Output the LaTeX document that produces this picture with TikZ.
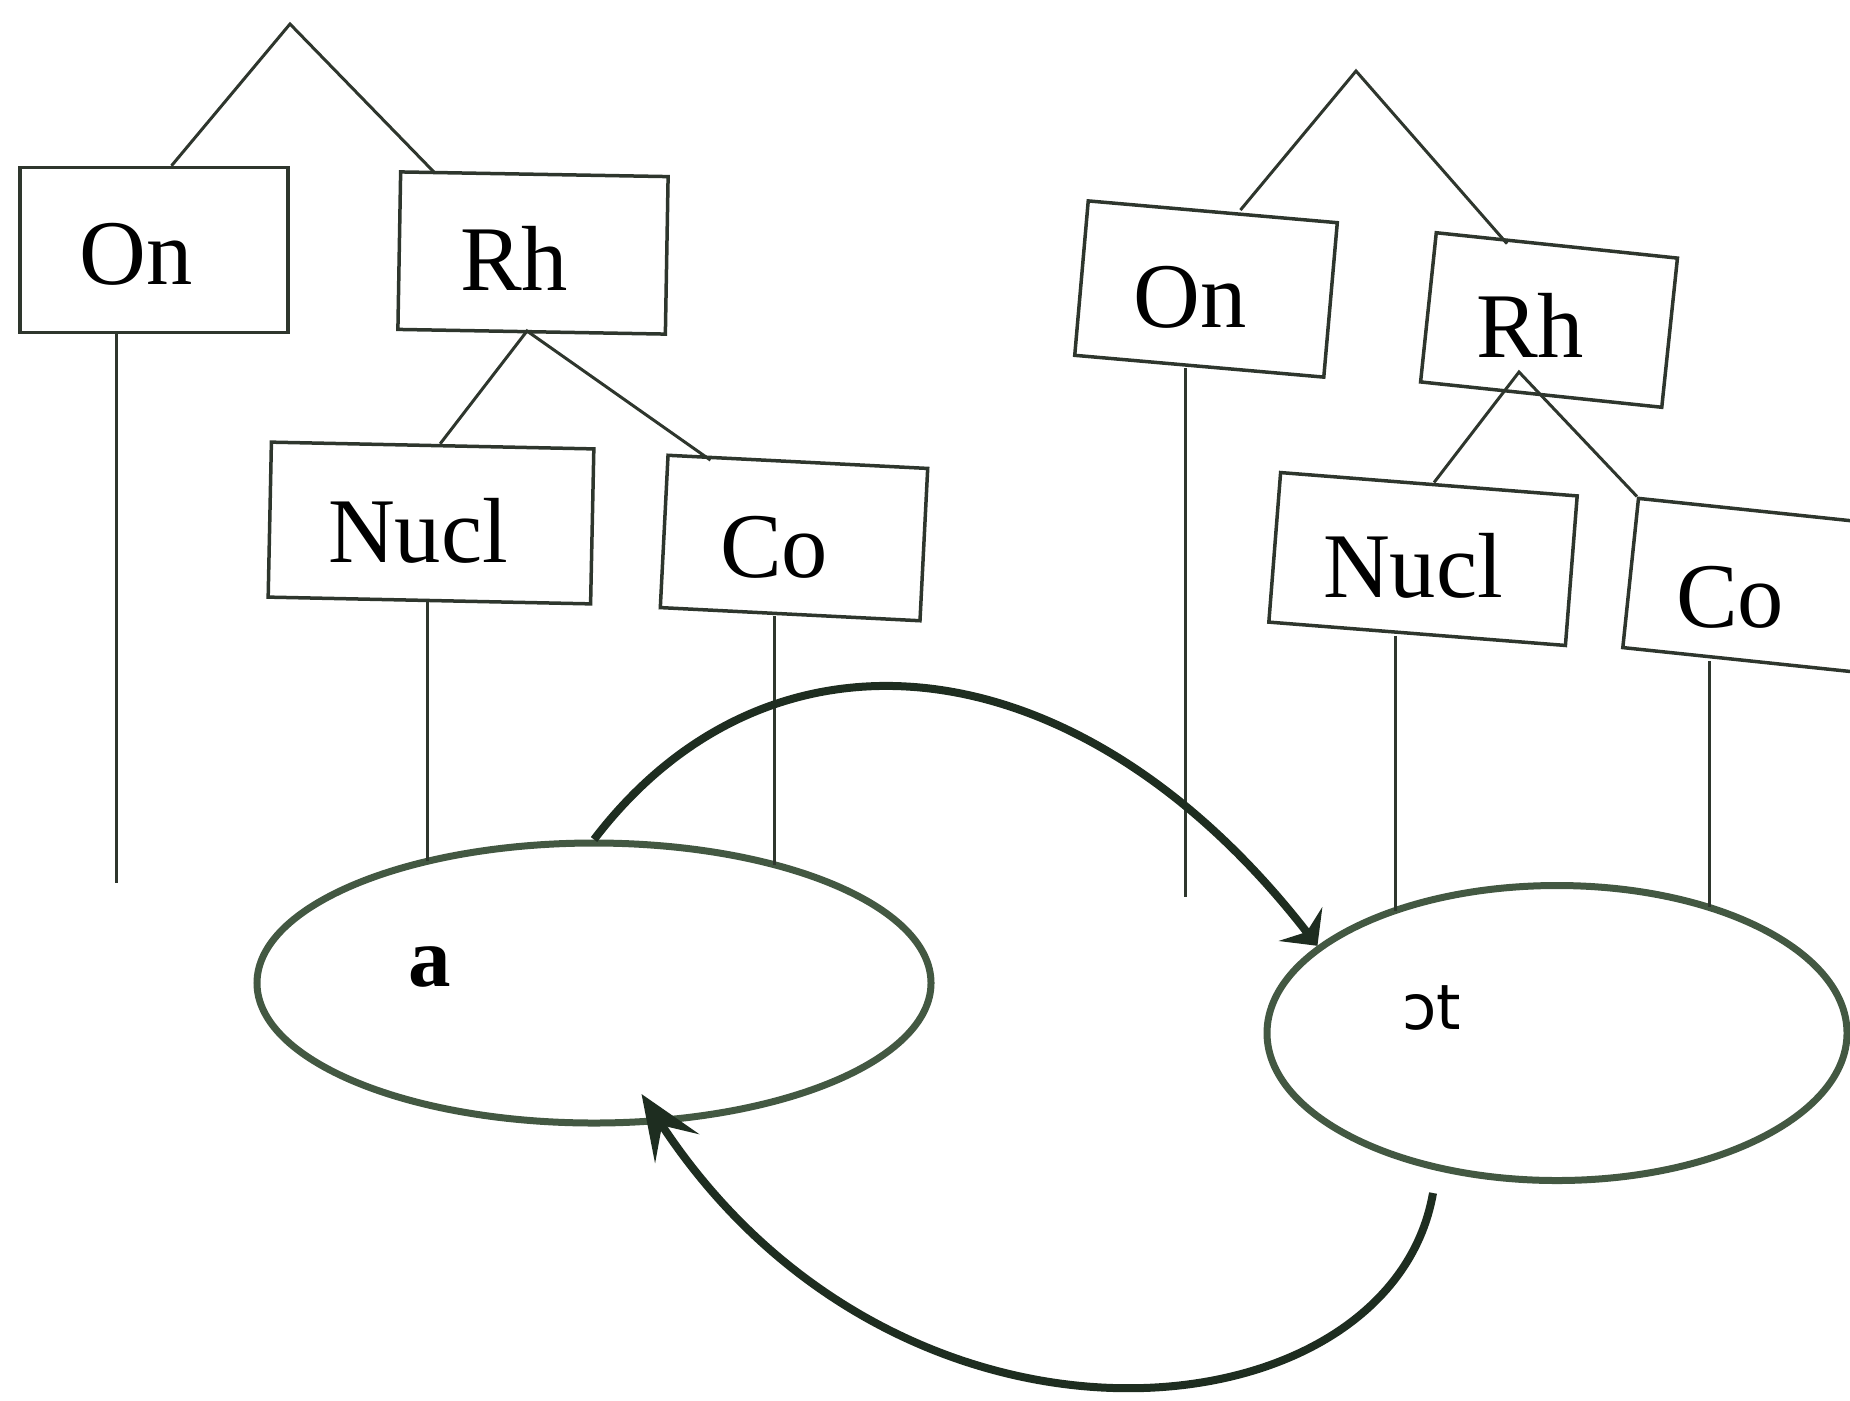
\documentclass[tikz,border=0pt]{standalone}
\usepackage{fontspec}
\setmainfont{Liberation Serif}
\newfontfamily\ipafont{DejaVu Sans}
\usetikzlibrary{shapes.geometric,arrows.meta}
\definecolor{boxline}{HTML}{2E362D}
\definecolor{ellline}{HTML}{435842}
\definecolor{arrline}{HTML}{1E2D20}
\begin{document}
\begin{tikzpicture}[x=0.4pt,y=-0.4pt,
  box/.style={draw=boxline, line width=1.4pt, rectangle, inner sep=0pt},
  boxtext/.style={font=\fontsize{37}{40}\selectfont, text=black, inner sep=0pt},
  oval/.style={draw=ellline, line width=2.8pt, ellipse, inner sep=0pt},
  tree/.style={draw=boxline, line width=1.2pt},
  loopa/.style={draw=arrline, line width=3.2pt,
    -{Stealth[length=11pt,width=22pt,inset=4pt]}},
  loopb/.style={draw=arrline, line width=3.2pt,
    -{Stealth[length=26pt,width=21pt,inset=11pt]}},
]
\useasboundingbox (0,0) rectangle (1850,1400);

% ---------- left tree ----------
\coordinate (apexL) at (290,24);
\node[box, minimum width=107pt, minimum height=66pt] (OnL) at (154,250) {};
\node[box, minimum width=107pt, minimum height=63pt, rotate=-1] (RhL) at (533,253) {};
\node[box, minimum width=129pt, minimum height=62pt, rotate=-1.2] (NuclL) at (431,523) {};
\node[box, minimum width=104pt, minimum height=61pt, rotate=-2.9] (CoL) at (794,538) {};
\node[boxtext] (tOnL) at (136,254) {On};
\node[boxtext] (tRhL) at (514,258) {Rh};
\node[boxtext] (tNuclL) at (418,531) {Nucl};
\node[boxtext] (tCoL) at (774,547) {Co};
\coordinate (forkL) at (527,331);

\draw[tree] ([xshift=7pt]OnL.north) -- (apexL) -- ([xshift=-40pt]RhL.north);
\draw[tree] ([xshift=3pt]NuclL.north) -- (forkL) -- ([xshift=-35pt]CoL.north);

% ---------- right tree ----------
\coordinate (apexR) at (1356,71);
\node[box, minimum width=100pt, minimum height=62pt, rotate=-5] (OnR) at (1206,289) {};
\node[box, minimum width=97pt, minimum height=60pt, rotate=-6] (RhR) at (1549,320) {};
\node[box, minimum width=119pt, minimum height=60pt, rotate=-4.5] (NuclR) at (1423,559) {};
\node[box, minimum width=92pt, minimum height=60pt, rotate=-6] (CoR) at (1745,585) {};
\node[boxtext] (tOnR) at (1190,297) {On};
\node[boxtext] (tRhR) at (1530,325) {Rh};
\node[boxtext] (tNuclR) at (1413,566) {Nucl};
\node[boxtext] (tCoR) at (1730,597) {Co};
\coordinate (forkR) at (1519,372);

\draw[tree] ([xshift=11pt]OnR.north) -- (apexR) -- ([xshift=-20pt]RhR.north);
\draw[tree] ([xshift=2pt]NuclR.north) -- (forkR) -- (CoR.north west);

% ---------- ellipses ----------
\node[oval, minimum width=269.6pt, minimum height=112pt] (ea) at (594,983) {};
\node[oval, minimum width=232pt, minimum height=118pt] (eb) at (1557,1033) {};
\node[font=\fontsize{34}{40}\selectfont\bfseries, inner sep=0pt] (la) at (430,967) {a};
\node[font=\ipafont\fontsize{25}{30}\selectfont, inner sep=0pt] (lb) at (1432,1008) {ɔt};

% ---------- vertical lines ----------
\coordinate (onLend) at (116,883);
\coordinate (nuLend) at (427,861);
\coordinate (coLend) at (774,865);
\coordinate (onRend) at (1185,897);
\coordinate (nuRend) at (1395,911);
\coordinate (coRend) at (1709,907);
\draw[tree] (OnL.south -| onLend) -- (onLend);
\draw[tree] (NuclL.south -| nuLend) -- (nuLend);
\draw[tree] (CoL.south -| coLend) -- (coLend);
\draw[tree] (OnR.south -| onRend) -- (onRend);
\draw[tree] (NuclR.south -| nuRend) -- (nuRend);
\draw[tree] (CoR.south -| coRend) -- (coRend);

% ---------- arrows ----------
\coordinate (startB) at (1433,1193);
\draw[loopa] (ea.north) .. controls (772,606) and (1080,640) .. (eb.160);
\draw[loopb] (startB) .. controls (1390,1440) and (900,1490) .. ([xshift=19pt,yshift=13pt]ea.south);
\end{tikzpicture}
\end{document}
